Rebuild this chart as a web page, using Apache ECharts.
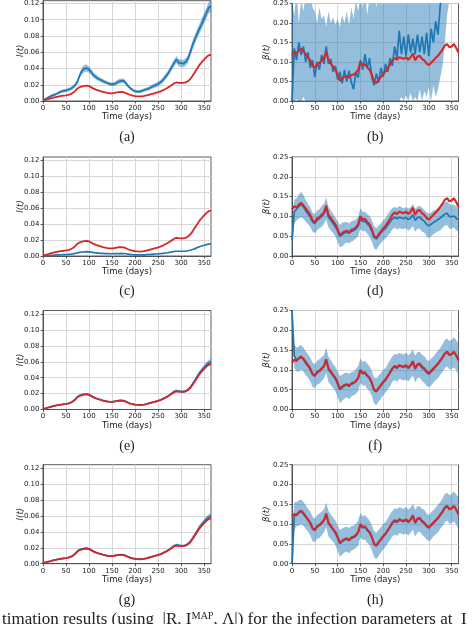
<!DOCTYPE html>
<html><head><meta charset="utf-8">
<script src="https://cdn.jsdelivr.net/npm/echarts@6/dist/echarts.min.js"></script>
<style>html,body{margin:0;padding:0;background:#fff}#c{width:474px;height:624px}</style>
</head><body><div id="c"></div>
<script>
// ---- data ----
const days = [0,5,10,15,20,25,30,35,40,45,
  50,55,60,65,70,75,80,85,90,95,
  100,105,110,115,120,125,130,135,140,145,
  150,155,160,165,170,175,180,185,190,195,
  200,205,210,215,220,225,230,235,240,245,
  250,255,260,265,270,275,280,285,290,295,
  300,305,310,315,320,325,330,335,340,345,
  350,355,360,365];
const xTicks = [0,50,100,150,200,250,300,350];
const iTicks = [0,0.02,0.04,0.06,0.08,0.10,0.12];
const bTicks = [0,0.05,0.10,0.15,0.20,0.25];

// true infections I(t) (red)
const iTrue = [0.0010,0.0015,0.0022,0.0030,0.0038,0.0045,0.0052,0.0058,0.0062,0.0066,
  0.0070,0.0075,0.0085,0.0100,0.0125,0.0155,0.0172,0.0180,0.0187,0.0190,
  0.0183,0.0168,0.0152,0.0140,0.0130,0.0121,0.0113,0.0106,0.0100,0.0095,
  0.0095,0.0100,0.0105,0.0110,0.0112,0.0108,0.0098,0.0085,0.0074,0.0066,
  0.0060,0.0057,0.0056,0.0058,0.0062,0.0068,0.0076,0.0084,0.0092,0.0100,
  0.0108,0.0118,0.0130,0.0145,0.0160,0.0178,0.0198,0.0218,0.0228,0.0224,
  0.0222,0.0222,0.0228,0.0245,0.0270,0.0310,0.0355,0.0400,0.0445,0.0478,
  0.0510,0.0540,0.0563,0.0570];
// estimated I(t), panel (a)
const iEstA = [0.0015,0.0025,0.0040,0.0055,0.0068,0.0078,0.0090,0.0105,0.0118,0.0125,
  0.0130,0.0138,0.0150,0.0170,0.0195,0.0240,0.0320,0.0375,0.0400,0.0405,
  0.0385,0.0355,0.0315,0.0295,0.0275,0.0262,0.0245,0.0232,0.0222,0.0210,
  0.0205,0.0210,0.0225,0.0240,0.0248,0.0250,0.0220,0.0185,0.0155,0.0135,
  0.0120,0.0115,0.0115,0.0125,0.0135,0.0145,0.0155,0.0170,0.0185,0.0195,
  0.0210,0.0230,0.0255,0.0290,0.0325,0.0370,0.0420,0.0470,0.0510,0.0470,
  0.0465,0.0460,0.0480,0.0520,0.0600,0.0690,0.0760,0.0830,0.0890,0.0950,
  0.1020,0.1080,0.1150,0.1170];
const iHalfA = [0.0015,0.0010,0.0012,0.0015,0.0015,0.0018,0.0015,0.0020,0.0018,0.0020,
  0.0020,0.0022,0.0020,0.0025,0.0025,0.0030,0.0035,0.0040,0.0045,0.0042,
  0.0040,0.0035,0.0032,0.0030,0.0028,0.0025,0.0025,0.0022,0.0022,0.0020,
  0.0022,0.0025,0.0028,0.0030,0.0030,0.0028,0.0025,0.0022,0.0020,0.0018,
  0.0018,0.0018,0.0020,0.0020,0.0022,0.0022,0.0025,0.0025,0.0028,0.0028,
  0.0030,0.0030,0.0032,0.0035,0.0035,0.0038,0.0040,0.0042,0.0045,0.0045,
  0.0045,0.0045,0.0048,0.0050,0.0052,0.0055,0.0058,0.0060,0.0062,0.0065,
  0.0065,0.0068,0.0070,0.0070];
// estimated I(t), panel (c)
const iEstC = [0.0002,0.0003,0.0005,0.0007,0.0009,0.0011,0.0013,0.0015,0.0016,0.0017,
  0.0018,0.0020,0.0022,0.0026,0.0032,0.0040,0.0046,0.0050,0.0053,0.0054,
  0.0052,0.0048,0.0043,0.0040,0.0037,0.0034,0.0032,0.0030,0.0029,0.0028,
  0.0028,0.0029,0.0030,0.0031,0.0032,0.0031,0.0028,0.0024,0.0020,0.0017,
  0.0015,0.0014,0.0014,0.0014,0.0015,0.0017,0.0019,0.0021,0.0023,0.0025,
  0.0027,0.0030,0.0033,0.0037,0.0041,0.0046,0.0051,0.0057,0.0060,0.0060,
  0.0060,0.0060,0.0062,0.0066,0.0072,0.0082,0.0093,0.0105,0.0116,0.0126,
  0.0135,0.0143,0.0150,0.0153];
// estimated I(t), panels (e) and (g)
const iEstE = [0.0010,0.0016,0.0023,0.0031,0.0039,0.0046,0.0053,0.0059,0.0063,0.0067,
  0.0071,0.0077,0.0087,0.0103,0.0130,0.0160,0.0178,0.0187,0.0193,0.0195,
  0.0188,0.0172,0.0155,0.0142,0.0132,0.0123,0.0115,0.0108,0.0102,0.0097,
  0.0097,0.0102,0.0107,0.0112,0.0115,0.0111,0.0100,0.0087,0.0076,0.0067,
  0.0061,0.0058,0.0057,0.0059,0.0063,0.0069,0.0077,0.0086,0.0094,0.0102,
  0.0110,0.0120,0.0133,0.0148,0.0164,0.0183,0.0204,0.0226,0.0236,0.0230,
  0.0226,0.0226,0.0232,0.0250,0.0278,0.0320,0.0366,0.0413,0.0460,0.0495,
  0.0528,0.0560,0.0585,0.0598];
const iHalfE = [0.0003,0.0003,0.0004,0.0004,0.0004,0.0005,0.0005,0.0005,0.0005,0.0005,
  0.0005,0.0006,0.0006,0.0007,0.0008,0.0009,0.0010,0.0011,0.0012,0.0012,
  0.0011,0.0010,0.0009,0.0008,0.0008,0.0007,0.0007,0.0007,0.0006,0.0006,
  0.0006,0.0007,0.0007,0.0008,0.0008,0.0008,0.0007,0.0006,0.0006,0.0005,
  0.0005,0.0005,0.0005,0.0005,0.0005,0.0006,0.0006,0.0007,0.0007,0.0008,
  0.0008,0.0009,0.0010,0.0011,0.0012,0.0013,0.0014,0.0016,0.0017,0.0016,
  0.0016,0.0016,0.0017,0.0018,0.0020,0.0022,0.0024,0.0026,0.0028,0.0030,
  0.0032,0.0034,0.0036,0.0037];

// true beta(t) (red)
const betaTrue = [0.118,0.126,0.122,0.130,0.134,0.128,0.120,0.112,0.104,0.090,
  0.086,0.095,0.098,0.104,0.110,0.127,0.104,0.096,0.088,0.080,
  0.068,0.052,0.058,0.062,0.064,0.060,0.066,0.068,0.072,0.080,
  0.100,0.092,0.094,0.086,0.080,0.068,0.050,0.046,0.055,0.062,
  0.070,0.076,0.085,0.094,0.104,0.110,0.106,0.112,0.110,0.108,
  0.112,0.106,0.112,0.122,0.104,0.114,0.116,0.108,0.104,0.096,
  0.092,0.098,0.104,0.110,0.116,0.124,0.132,0.142,0.146,0.138,
  0.140,0.146,0.136,0.124];
// estimated beta, panel (b)
const betaEstB = [0.000,0.135,0.105,0.150,0.118,0.140,0.100,0.125,0.085,0.105,
  0.062,0.100,0.080,0.118,0.095,0.140,0.095,0.108,0.075,0.090,
  0.055,0.075,0.045,0.080,0.050,0.078,0.048,0.030,0.075,0.060,
  0.105,0.080,0.120,0.085,0.110,0.060,0.040,0.070,0.048,0.085,
  0.062,0.095,0.075,0.110,0.090,0.140,0.110,0.180,0.120,0.165,
  0.115,0.170,0.125,0.160,0.120,0.170,0.125,0.165,0.120,0.175,
  0.115,0.185,0.150,0.205,0.170,0.245,0.280,0.290,0.300,0.310,
  0.320,0.330,0.340,0.350];
const betaLowB = [0.000,0.000,0.005,0.000,0.000,0.010,0.000,0.000,0.000,0.000,
  0.000,0.000,0.000,0.000,0.000,0.000,0.000,0.000,0.000,0.000,
  0.000,0.000,0.000,0.000,0.000,0.000,0.000,0.000,0.000,0.000,
  0.000,0.000,0.000,0.000,0.000,0.000,0.000,0.000,0.000,0.000,
  0.000,0.000,0.000,0.000,0.000,0.000,0.000,0.000,0.010,0.000,
  0.015,0.000,0.020,0.000,0.010,0.000,0.030,0.000,0.025,0.010,
  0.035,0.000,0.040,0.010,0.030,0.060,0.090,0.150,0.220,0.260,
  0.270,0.280,0.290,0.300];
const betaHighB = [0.260,0.220,0.280,0.200,0.260,0.230,0.270,0.250,0.280,0.240,
  0.230,0.200,0.240,0.210,0.220,0.190,0.230,0.200,0.215,0.195,
  0.210,0.190,0.220,0.200,0.230,0.195,0.240,0.210,0.260,0.230,
  0.270,0.240,0.280,0.220,0.270,0.250,0.290,0.240,0.280,0.260,
  0.300,0.270,0.310,0.290,0.320,0.300,0.330,0.310,0.340,0.320,
  0.350,0.330,0.360,0.340,0.370,0.350,0.380,0.360,0.390,0.370,
  0.400,0.380,0.410,0.390,0.420,0.430,0.440,0.450,0.460,0.470,
  0.480,0.490,0.500,0.510];
// estimated beta, panel (d)
const betaEstD = [0.040,0.112,0.118,0.125,0.130,0.124,0.114,0.106,0.098,0.086,
  0.082,0.090,0.094,0.100,0.106,0.120,0.098,0.090,0.082,0.074,
  0.062,0.050,0.054,0.058,0.060,0.057,0.062,0.064,0.068,0.075,
  0.094,0.087,0.088,0.081,0.075,0.063,0.047,0.043,0.051,0.058,
  0.065,0.070,0.078,0.086,0.094,0.098,0.094,0.098,0.096,0.094,
  0.097,0.092,0.096,0.104,0.090,0.097,0.098,0.092,0.088,0.080,
  0.076,0.080,0.085,0.088,0.092,0.096,0.101,0.106,0.108,0.100,
  0.099,0.101,0.095,0.092];
const betaHalfD = [0.040,0.030,0.028,0.030,0.032,0.030,0.027,0.026,0.025,0.024,
  0.024,0.025,0.024,0.026,0.025,0.028,0.026,0.025,0.024,0.024,
  0.026,0.028,0.030,0.027,0.026,0.025,0.026,0.025,0.024,0.025,
  0.026,0.025,0.024,0.025,0.026,0.027,0.028,0.028,0.026,0.025,
  0.025,0.026,0.027,0.028,0.027,0.026,0.027,0.028,0.027,0.026,
  0.027,0.028,0.027,0.028,0.029,0.028,0.029,0.030,0.029,0.030,
  0.031,0.030,0.030,0.029,0.030,0.031,0.030,0.029,0.030,0.031,
  0.030,0.029,0.030,0.031];
// estimated beta, panel (f)
const betaEstF = [0.250,0.135,0.126,0.128,0.132,0.126,0.117,0.110,0.101,0.088,
  0.084,0.093,0.096,0.102,0.108,0.124,0.101,0.093,0.085,0.077,
  0.064,0.050,0.055,0.060,0.062,0.058,0.064,0.066,0.070,0.078,
  0.098,0.090,0.092,0.084,0.078,0.066,0.048,0.045,0.053,0.060,
  0.068,0.074,0.083,0.092,0.102,0.108,0.104,0.110,0.108,0.106,
  0.110,0.104,0.110,0.119,0.102,0.112,0.113,0.105,0.101,0.093,
  0.089,0.095,0.101,0.108,0.114,0.122,0.130,0.140,0.144,0.137,
  0.139,0.145,0.137,0.126];
const betaHalfF = [0.040,0.030,0.030,0.032,0.031,0.030,0.030,0.029,0.030,0.031,
  0.030,0.030,0.031,0.030,0.029,0.031,0.032,0.031,0.030,0.031,
  0.032,0.034,0.033,0.032,0.031,0.032,0.031,0.030,0.031,0.032,
  0.031,0.030,0.031,0.032,0.031,0.032,0.033,0.034,0.033,0.032,
  0.032,0.031,0.032,0.033,0.032,0.033,0.034,0.033,0.032,0.033,
  0.034,0.033,0.032,0.033,0.034,0.033,0.032,0.033,0.034,0.033,
  0.033,0.034,0.033,0.034,0.035,0.034,0.035,0.036,0.035,0.036,
  0.037,0.038,0.038,0.040];
// estimated beta, panel (h)
const betaEstH = [0.000,0.120,0.125,0.128,0.131,0.126,0.118,0.110,0.102,0.088,
  0.084,0.093,0.096,0.102,0.108,0.123,0.101,0.093,0.086,0.078,
  0.065,0.051,0.056,0.060,0.062,0.058,0.064,0.066,0.070,0.078,
  0.097,0.090,0.092,0.084,0.078,0.066,0.049,0.045,0.053,0.060,
  0.068,0.074,0.083,0.092,0.101,0.107,0.104,0.110,0.108,0.106,
  0.110,0.104,0.110,0.119,0.102,0.112,0.113,0.106,0.102,0.094,
  0.090,0.096,0.102,0.108,0.114,0.122,0.130,0.140,0.144,0.137,
  0.139,0.145,0.137,0.127];
const betaHalfH = [0.070,0.035,0.030,0.032,0.031,0.030,0.030,0.029,0.030,0.031,
  0.030,0.030,0.031,0.030,0.029,0.031,0.032,0.031,0.030,0.031,
  0.032,0.034,0.033,0.032,0.031,0.032,0.031,0.030,0.031,0.032,
  0.031,0.030,0.031,0.032,0.031,0.032,0.033,0.034,0.033,0.032,
  0.032,0.031,0.032,0.033,0.032,0.033,0.034,0.033,0.032,0.033,
  0.034,0.033,0.032,0.033,0.034,0.033,0.032,0.033,0.034,0.033,
  0.033,0.034,0.033,0.034,0.035,0.034,0.035,0.036,0.035,0.036,
  0.037,0.038,0.038,0.040];

// ---- chart ----
const BLUE = '#1f77b4', RED = '#d62728', BAND = 'rgba(31,119,180,0.48)';
const FONT = 'DejaVu Sans';
const panels = [
  {cap:'(a)', kind:'I', left:43, top:0,     height:101, max:0.1235, est:iEstA, lo:iEstA.map((v,i)=>v-iHalfA[i]), hi:iEstA.map((v,i)=>v+iHalfA[i])},
  {cap:'(b)', kind:'B', left:292, top:2,    height:99,  max:0.25, est:betaEstB, lo:betaLowB, hi:betaHighB},
  {cap:'(c)', kind:'I', left:43, top:157,   height:99,  max:0.1245, est:iEstC, lo:null, hi:null},
  {cap:'(d)', kind:'B', left:292, top:157,  height:99,  max:0.25, est:betaEstD, lo:betaEstD.map((v,i)=>v-betaHalfD[i]), hi:betaEstD.map((v,i)=>v+betaHalfD[i])},
  {cap:'(e)', kind:'I', left:43, top:310.5, height:99,  max:0.1245, est:iEstE, lo:iEstE.map((v,i)=>v-iHalfE[i]), hi:iEstE.map((v,i)=>v+iHalfE[i])},
  {cap:'(f)', kind:'B', left:292, top:310.5,height:99,  max:0.25, est:betaEstF, lo:betaEstF.map((v,i)=>v-betaHalfF[i]), hi:betaEstF.map((v,i)=>v+betaHalfF[i])},
  {cap:'(g)', kind:'I', left:43, top:464.7, height:99,  max:0.1245, est:iEstE, lo:iEstE.map((v,i)=>v-iHalfE[i]), hi:iEstE.map((v,i)=>v+iHalfE[i])},
  {cap:'(h)', kind:'B', left:292, top:464.7,height:99,  max:0.25, est:betaEstH, lo:betaEstH.map((v,i)=>v-betaHalfH[i]), hi:betaEstH.map((v,i)=>v+betaHalfH[i])}
];
const capY = [137.7, 137.7, 291.7, 291.7, 446.7, 446.7, 600.5, 600.5];

const grid = [], xAxis = [], yAxis = [], series = [], graphic = [];
const pair = arr => days.map((d,i)=>[d, arr[i]]);
panels.forEach((p, gi) => {
  const w = p.kind === 'I' ? 168 : 166.5;
  grid.push({left:p.left, top:p.top, width:w, height:p.height, show:true, borderColor:'#333', borderWidth:0.8, backgroundColor:'transparent'});
  xAxis.push({type:'value', gridIndex:gi, min:0, max:365, interval:50,
    name:'Time (days)', nameLocation:'middle', nameGap:11.5, nameMoveOverlap:false,
    nameTextStyle:{fontFamily:FONT, fontSize:8.5, color:'#222'},
    axisLine:{show:true, lineStyle:{color:'#333', width:0.8}},
    axisTick:{show:true, length:2.5, customValues:xTicks, lineStyle:{color:'#333', width:0.8}},
    axisLabel:{fontFamily:FONT, fontSize:7, color:'#222', margin:3.5, customValues:xTicks,
      formatter: v => (v % 50 === 0 ? String(v) : '')},
    splitLine:{show:true, lineStyle:{color:'#d4d4d4', width:0.9}}});
  const ticks = p.kind === 'I' ? iTicks : bTicks;
  const step = p.kind === 'I' ? 0.02 : 0.05;
  yAxis.push({type:'value', gridIndex:gi, min:0, max:p.max, interval:step,
    name: p.kind === 'I' ? 'I(t)' : 'β(t)', nameLocation:'middle', nameGap: p.kind === 'I' ? 18 : 21,
    nameMoveOverlap:false,
    nameTextStyle:{fontFamily:FONT, fontSize:8.5, color:'#222', fontStyle:'italic'},
    axisLine:{show:true, lineStyle:{color:'#333', width:0.8}},
    axisTick:{show:true, length:2.5, customValues:ticks, lineStyle:{color:'#333', width:0.8}},
    axisLabel:{fontFamily:FONT, fontSize:7, color:'#222', margin:3.5, customValues:ticks,
      formatter: v => (Math.abs(v/step - Math.round(v/step)) < 1e-6 ? v.toFixed(2) : '')},
    splitLine:{show:true, lineStyle:{color:'#d4d4d4', width:0.9}}});
  if (p.lo) {
    const lo = p.lo, hi = p.hi;
    series.push({type:'custom', xAxisIndex:gi, yAxisIndex:gi, clip:true, silent:true, z:1,
      data:[[0, 0]],
      renderItem: (params, api) => {
        const pts = [];
        for (let i = 0; i < days.length; i++) pts.push(api.coord([days[i], hi[i]]));
        for (let i = days.length - 1; i >= 0; i--) pts.push(api.coord([days[i], lo[i]]));
        const cs = params.coordSys;
        return {type:'polygon', shape:{points:pts},
          style:{fill:BAND, stroke:null},
          clipPath:{type:'rect', shape:{x:cs.x, y:cs.y, width:cs.width, height:cs.height}}};
      }});
  }
  series.push({type:'line', xAxisIndex:gi, yAxisIndex:gi, data: pair(p.est), symbol:'none',
    lineStyle:{color:BLUE, width:1.7}, z:2, clip:true});
  series.push({type:'line', xAxisIndex:gi, yAxisIndex:gi, data: pair(p.kind === 'I' ? iTrue : betaTrue), symbol:'none',
    lineStyle:{color:RED, width:p.kind === 'I' ? 1.8 : 2.1}, z:3, clip:true});
  graphic.push({type:'text', x: p.left + w/2, y: capY[gi],
    style:{text:p.cap, font:'14px "Liberation Serif"', fill:'#222', textAlign:'center', textVerticalAlign:'middle'}});
});
graphic.push({type:'text', x:2, y:611,
  style:{text:'timation results (using  |R, I\u1D39\u1D2C\u1D3E, Λ|) for the infection parameters at  I',
    font:'17px "Liberation Serif"', fill:'#222', textAlign:'left', textVerticalAlign:'top'}});

const chart = echarts.init(document.getElementById('c'), null, {renderer:'canvas'});
chart.setOption({animation:false, backgroundColor:'#fff', grid, xAxis, yAxis, series, graphic});
</script></body></html>
